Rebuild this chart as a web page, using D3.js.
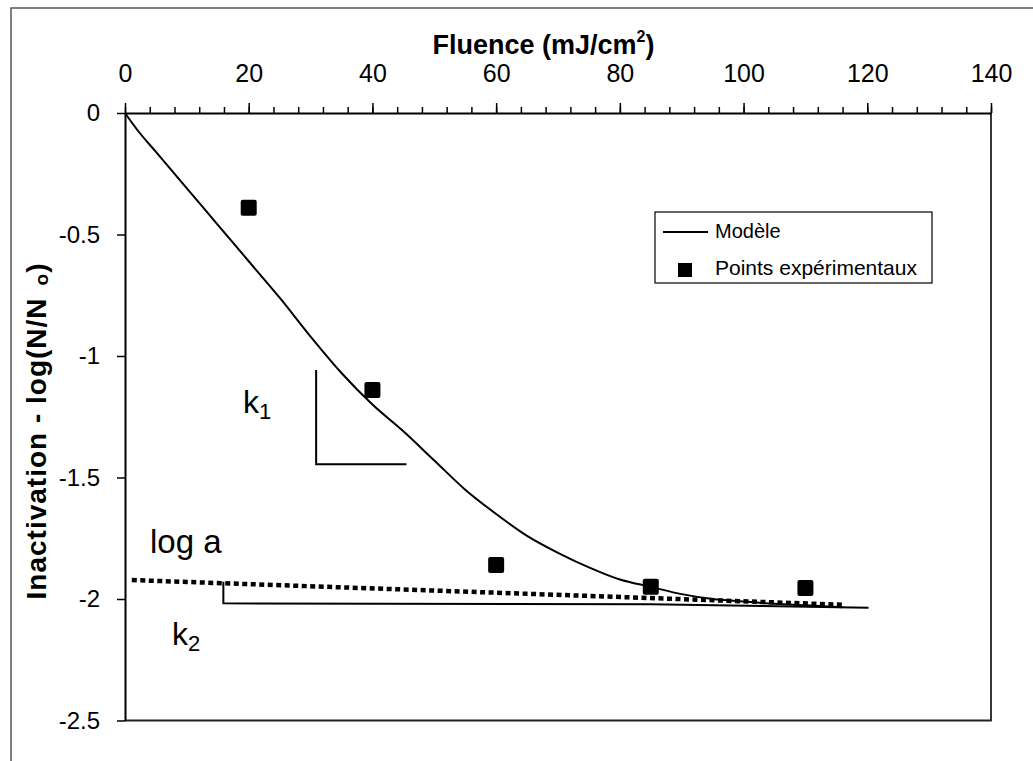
<!DOCTYPE html>
<html>
<head>
<meta charset="utf-8">
<script src="https://cdn.jsdelivr.net/npm/d3@7"></script>
<style>
  body { margin: 0; background: #fff; }
  svg { display: block; }
  text { font-family: "Liberation Sans", Arial, Helvetica, sans-serif; fill: #000; }
</style>
</head>
<body>
<svg id="chart" width="1033" height="761"></svg>
<script>
// Measured inactivation points
const fluence = [20, 40, 60, 85, 110];
const inactivation = [-0.39, -1.14, -1.86, -1.95, -1.955];

// Fitted model curve
const modelFluence = [0, 2, 5, 10, 15, 20, 25, 30, 35, 40, 45, 50, 55, 60, 65, 70, 75, 80, 85, 90, 95, 100, 105, 110, 116];
const modelInactivation = [0, -0.07, -0.16, -0.31, -0.46, -0.61, -0.76, -0.92, -1.07, -1.20, -1.31, -1.43, -1.55, -1.65, -1.74, -1.81, -1.87, -1.92, -1.95, -1.98, -2.00, -2.01, -2.02, -2.026, -2.034];

// Tail asymptote (log a intercept, slope k2)
const logAFluence = [1.1, 116.4];
const logAValues = [-1.922, -2.024];

// Slope triangles
const k1Fluence = [30.9, 30.9, 45.5];
const k1Values = [-1.058, -1.445, -1.445];
const k2Fluence = [15.9, 15.9, 85, 120.2];
const k2Values = [-1.929, -2.018, -2.022, -2.036];

// Axis ticks
const xTicks = [0, 20, 40, 60, 80, 100, 120, 140];
const xMinorTicks = d3.range(0, 141, 4);
const yTicks = [0, -0.5, -1, -1.5, -2, -2.5];

const svg = d3.select("#chart");
const plotLeft = 125, plotRight = 991, plotTop = 113, plotBottom = 720.5;

const x = d3.scaleLinear().domain([0, 140]).range([plotLeft, plotRight]);
const y = d3.scaleLinear().domain([0, -2.5]).range([plotTop, plotBottom]);

// Outer frame (top and left edges)
svg.append("path")
  .attr("d", `M11,761 L11,8 L1033,8`)
  .attr("fill", "none").attr("stroke", "#555").attr("stroke-width", 1.5);

// Right and bottom borders of the plot area
svg.append("path")
  .attr("d", `M${plotRight},${plotTop} L${plotRight},${plotBottom} L${plotLeft},${plotBottom}`)
  .attr("fill", "none").attr("stroke", "#222").attr("stroke-width", 1.8);

// Top axis: minor ticks then labelled major ticks
svg.append("g")
  .attr("transform", `translate(0,${plotTop})`)
  .call(d3.axisTop(x).tickValues(xMinorTicks).tickSize(6).tickSizeOuter(0).tickFormat(""))
  .call(g => g.select(".domain").remove())
  .call(g => g.selectAll("line").attr("stroke", "#000").attr("stroke-width", 1.5));

svg.append("g")
  .attr("transform", `translate(0,${plotTop})`)
  .call(d3.axisTop(x).tickValues(xTicks).tickSize(10).tickSizeOuter(0).tickPadding(21).tickFormat(d => String(d)))
  .call(g => g.select(".domain").attr("stroke", "#000").attr("stroke-width", 2.2))
  .call(g => g.selectAll("line").attr("stroke", "#000").attr("stroke-width", 1.5))
  .call(g => g.selectAll("text").attr("font-size", 25).attr("font-family", "Liberation Sans, Arial, sans-serif").attr("fill", "#000"));

// Left axis
svg.append("g")
  .attr("transform", `translate(${plotLeft},0)`)
  .call(d3.axisLeft(y).tickValues(yTicks).tickSize(8).tickSizeOuter(0).tickPadding(17).tickFormat(d => String(d)))
  .call(g => g.select(".domain").attr("stroke", "#000").attr("stroke-width", 2))
  .call(g => g.selectAll("line").attr("stroke", "#000").attr("stroke-width", 1.5))
  .call(g => g.selectAll("text").attr("font-size", 24).attr("font-family", "Liberation Sans, Arial, sans-serif").attr("fill", "#000"));

// Axis titles
const xTitle = svg.append("text")
  .attr("x", (432 + 655) / 2).attr("y", 54)
  .attr("text-anchor", "middle")
  .attr("font-size", 27).attr("font-weight", "bold");
xTitle.append("tspan").text("Fluence (mJ/cm");
xTitle.append("tspan").attr("font-size", 16).attr("dy", -12).text("2");
xTitle.append("tspan").attr("dy", 12).text(")");

const yTitle = svg.append("text")
  .attr("transform", "translate(46,431) rotate(-90)")
  .attr("text-anchor", "middle")
  .attr("font-size", 28).attr("font-weight", "bold")
  .attr("letter-spacing", 1);
yTitle.append("tspan").text("Inactivation - log(N/N");
yTitle.append("tspan").attr("dx", 12).attr("dy", 2).attr("font-size", 19).text("o");
yTitle.append("tspan").attr("dy", -2).text(")");

const line = d3.line().x(d => x(d[0])).y(d => y(d[1]));

// Asymptote (dotted)
svg.append("path")
  .datum(d3.zip(logAFluence, logAValues))
  .attr("d", line)
  .attr("fill", "none").attr("stroke", "#000")
  .attr("stroke-width", 4.5).attr("stroke-dasharray", "5,3.5");

// Slope triangles
svg.append("path")
  .datum(d3.zip(k1Fluence, k1Values))
  .attr("d", line)
  .attr("fill", "none").attr("stroke", "#000").attr("stroke-width", 2);
svg.append("path")
  .datum(d3.zip(k2Fluence, k2Values))
  .attr("d", line)
  .attr("fill", "none").attr("stroke", "#000").attr("stroke-width", 2);

// Model curve
svg.append("path")
  .datum(d3.zip(modelFluence, modelInactivation))
  .attr("d", d3.line().x(d => x(d[0])).y(d => y(d[1])).curve(d3.curveMonotoneX))
  .attr("fill", "none").attr("stroke", "#000").attr("stroke-width", 2);

// Experimental points
const ms = 16;
svg.append("g").selectAll("rect")
  .data(d3.zip(fluence, inactivation))
  .join("rect")
  .attr("x", d => x(d[0]) - ms / 2)
  .attr("y", d => y(d[1]) - ms / 2)
  .attr("width", ms).attr("height", ms)
  .attr("rx", 2).attr("fill", "#000");

// Annotations
function sublabel(xp, yp, main, sub) {
  const t = svg.append("text").attr("x", xp).attr("y", yp).attr("font-size", 32);
  t.append("tspan").text(main);
  t.append("tspan").attr("font-size", 22).attr("dy", 6).text(sub);
}
sublabel(243, 413, "k", "1");
sublabel(172, 645, "k", "2");
svg.append("text").attr("x", 150).attr("y", 553).attr("font-size", 33).text("log a");

// Legend
const lg = svg.append("g");
lg.append("rect")
  .attr("x", 655).attr("y", 212).attr("width", 277).attr("height", 71)
  .attr("fill", "#fff").attr("stroke", "#000").attr("stroke-width", 1.2);
lg.append("line")
  .attr("x1", 663).attr("x2", 708).attr("y1", 232).attr("y2", 232)
  .attr("stroke", "#000").attr("stroke-width", 2);
lg.append("text").attr("x", 715).attr("y", 238).attr("font-size", 20).text("Modèle");
lg.append("rect")
  .attr("x", 678).attr("y", 263).attr("width", 14).attr("height", 14).attr("fill", "#000");
lg.append("text").attr("x", 715).attr("y", 275).attr("font-size", 21).text("Points expérimentaux");
</script>
</body>
</html>
